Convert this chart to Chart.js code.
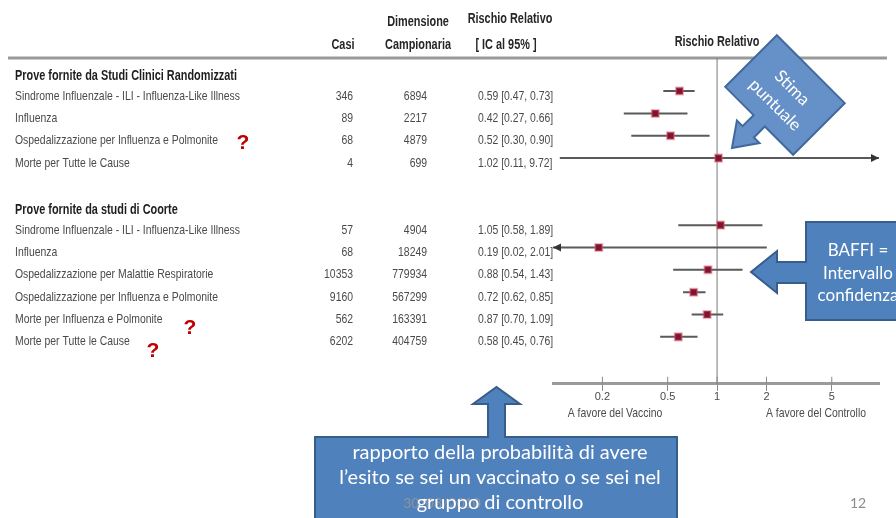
<!DOCTYPE html>
<html>
<head>
<meta charset="utf-8">
<script src="https://cdn.jsdelivr.net/npm/chart.js@4.4.1/dist/chart.umd.min.js"></script>
<style>
    html, body { margin: 0; padding: 0; background: #fff; }
    #wrap { width: 896px; height: 518px; position: relative; }
</style>
</head>
<body>
<div id="wrap"><canvas id="forestChart"></canvas></div>
<script>
// --- Data ---
const sectionTitles = ['Prove fornite da Studi Clinici Randomizzati', 'Prove fornite da studi di Coorte'];
const outcomes = [
    'Sindrome Influenzale - ILI - Influenza-Like Illness',
    'Influenza',
    'Ospedalizzazione per Influenza e Polmonite',
    'Morte per Tutte le Cause',
    'Sindrome Influenzale - ILI - Influenza-Like Illness',
    'Influenza',
    'Ospedalizzazione per Malattie Respiratorie',
    'Ospedalizzazione per Influenza e Polmonite',
    'Morte per Influenza e Polmonite',
    'Morte per Tutte le Cause'
];
const outcomeGroup = [0, 0, 0, 0, 1, 1, 1, 1, 1, 1];
const cases = [346, 89, 68, 4, 57, 68, 10353, 9160, 562, 6202];
const sampleSize = [6894, 2217, 4879, 699, 4904, 18249, 779934, 567299, 163391, 404759];
const riskRatio = [0.59, 0.42, 0.52, 1.02, 1.05, 0.19, 0.88, 0.72, 0.87, 0.58];
const ciLower = [0.47, 0.27, 0.30, 0.11, 0.58, 0.02, 0.54, 0.62, 0.70, 0.45];
const ciUpper = [0.73, 0.66, 0.90, 9.72, 1.89, 2.01, 1.43, 0.85, 1.09, 0.76];
const xTicks = [0.2, 0.5, 1, 2, 5];

// row index on the y scale: each section has a title row and a blank row before it
const rowOf = outcomes.map((_, i) => i + 1 + outcomeGroup[i] * 2);
const titleRow = sectionTitles.map((_, g) => outcomeGroup.indexOf(g) + g * 2);

const fmt = v => v.toFixed(2);

// draws text squeezed horizontally, like a narrow font
function narrowText(ctx, str, x, y, font, color, sx, align) {
    ctx.save();
    ctx.font = font;
    ctx.fillStyle = color;
    ctx.textBaseline = 'middle';
    ctx.textAlign = 'left';
    const w = ctx.measureText(str).width * sx;
    let left = x;
    if (align === 'right') left = x - w;
    else if (align === 'center') left = x - w / 2;
    ctx.translate(left, y);
    ctx.scale(sx, 1);
    ctx.fillText(str, 0, 0);
    ctx.restore();
}

function polygon(ctx, pts, fill, stroke) {
    ctx.beginPath();
    pts.forEach(([px, py], i) => i ? ctx.lineTo(px, py) : ctx.moveTo(px, py));
    ctx.closePath();
    ctx.fillStyle = fill;
    ctx.fill();
    ctx.strokeStyle = stroke;
    ctx.lineWidth = 2;
    ctx.stroke();
}

function centeredLines(ctx, lines, cx, y0, step, font, color) {
    ctx.save();
    ctx.font = font;
    ctx.fillStyle = color;
    ctx.textAlign = 'center';
    ctx.textBaseline = 'middle';
    lines.forEach((l, i) => ctx.fillText(l, cx, y0 + i * step));
    ctx.restore();
}

const REG = '13px "Liberation Sans", Arial, sans-serif';
const BOLD = 'bold 14px "Liberation Sans", Arial, sans-serif';
const CALLOUT = '"Lato", "Open Sans", sans-serif';

const forestPlugin = {
    id: 'forestTable',
    beforeDatasetsDraw(chart) {
        const { ctx, chartArea, scales: { x } } = chart;
        ctx.save();
        // top rule under the headers
        ctx.strokeStyle = '#9a9a9a';
        ctx.lineWidth = 3;
        ctx.beginPath();
        ctx.moveTo(8, chartArea.top);
        ctx.lineTo(887, chartArea.top);
        ctx.stroke();
        // line of no effect
        const x1 = x.getPixelForValue(1);
        ctx.strokeStyle = '#7a7a7a';
        ctx.lineWidth = 1;
        ctx.beginPath();
        ctx.moveTo(x1, chartArea.top);
        ctx.lineTo(x1, chartArea.bottom);
        ctx.stroke();
        // upper half of tick marks
        ctx.strokeStyle = '#888';
        xTicks.forEach(v => {
            const px = x.getPixelForValue(v);
            ctx.beginPath();
            ctx.moveTo(px, chartArea.bottom - 7);
            ctx.lineTo(px, chartArea.bottom);
            ctx.stroke();
        });
        ctx.restore();
    },
    afterDatasetsDraw(chart) {
        const { ctx, chartArea, scales: { x, y } } = chart;
        ctx.save();
        ctx.fillStyle = '#333';
        // arrows where the interval leaves the axis
        outcomes.forEach((_, i) => {
            const py = y.getPixelForValue(rowOf[i]);
            if (ciLower[i] < x.min) {
                const px = chartArea.left;
                ctx.beginPath();
                ctx.moveTo(px, py);
                ctx.lineTo(px + 8, py - 4);
                ctx.lineTo(px + 8, py + 4);
                ctx.closePath();
                ctx.fill();
            }
            if (ciUpper[i] > x.max) {
                const px = chartArea.right;
                ctx.beginPath();
                ctx.moveTo(px, py);
                ctx.lineTo(px - 8, py - 4);
                ctx.lineTo(px - 8, py + 4);
                ctx.closePath();
                ctx.fill();
            }
        });
        ctx.restore();
    },
    afterDraw(chart) {
        const { ctx, scales: { x, y } } = chart;
        ctx.save();
        ctx.font = REG;
        const sx = 225 / ctx.measureText(outcomes[0]).width;
        ctx.font = BOLD;
        const sxb = 222 / ctx.measureText(sectionTitles[0]).width;
        ctx.restore();

        const hdr = '#262626';
        // column headers
        narrowText(ctx, 'Casi', 343, 45, BOLD, hdr, sxb, 'center');
        narrowText(ctx, 'Dimensione', 418, 22, BOLD, hdr, sxb, 'center');
        narrowText(ctx, 'Campionaria', 418, 45, BOLD, hdr, sxb, 'center');
        narrowText(ctx, 'Rischio Relativo', 510, 19, BOLD, hdr, sxb, 'center');
        narrowText(ctx, '[ IC al 95% ]', 506, 45, BOLD, hdr, sxb, 'center');
        narrowText(ctx, 'Rischio Relativo', 717, 42, BOLD, hdr, sxb, 'center');

        sectionTitles.forEach((t, g) => {
            narrowText(ctx, t, 15, y.getPixelForValue(titleRow[g]) + 7, BOLD, '#1e1e1e', sxb, 'left');
        });
        outcomes.forEach((t, i) => {
            const py = y.getPixelForValue(rowOf[i]) + 5;
            narrowText(ctx, t, 15, py, REG, '#4a4a4a', sx, 'left');
            narrowText(ctx, String(cases[i]), 353, py, REG, '#4a4a4a', sx, 'right');
            narrowText(ctx, String(sampleSize[i]), 427, py, REG, '#4a4a4a', sx, 'right');
            narrowText(ctx, fmt(riskRatio[i]) + ' [' + fmt(ciLower[i]) + ', ' + fmt(ciUpper[i]) + ']', 478, py, REG, '#4a4a4a', sx, 'left');
        });

        // favour labels under the axis
        narrowText(ctx, 'A favore del Vaccino', 615, 413, REG, '#4a4a4a', sx, 'center');
        narrowText(ctx, 'A favore del Controllo', 816, 413, REG, '#4a4a4a', sx, 'center');

        // red question marks
        ctx.save();
        ctx.font = 'bold 21px "Liberation Sans", Arial, sans-serif';
        ctx.fillStyle = '#c00000';
        ctx.textAlign = 'center';
        ctx.textBaseline = 'middle';
        ctx.fillText('?', 243, 143);
        ctx.fillText('?', 190, 328);
        ctx.fillText('?', 153, 351);
        ctx.restore();

        // callout "Stima puntuale" (down arrow callout turned 45 degrees)
        ctx.save();
        ctx.translate(785, 95);
        ctx.rotate(Math.PI / 4);
        polygon(ctx, [[-48, -36.5], [48, -36.5], [48, 36.5], [8, 36.5], [8, 52], [16, 52], [0, 75],
            [-16, 52], [-8, 52], [-8, 36.5], [-48, 36.5]], '#6690c8', '#41699c');
        centeredLines(ctx, ['Stima', 'puntuale'], 0, -10, 24, '17px ' + CALLOUT, '#fff');
        ctx.restore();

        // callout "BAFFI"
        ctx.save();
        polygon(ctx, [[806, 222], [912, 222], [912, 320], [806, 320], [806, 283], [777, 283], [777, 293],
            [751, 272], [777, 251], [777, 262], [806, 262]], '#4f81bd', '#385d8a');
        centeredLines(ctx, ['BAFFI =', 'Intervallo', 'confidenza'], 858, 251, 22.5, '17px ' + CALLOUT, '#fff');
        ctx.restore();

        // callout under the table
        ctx.save();
        polygon(ctx, [[315, 437], [488, 437], [488, 404], [473, 404], [496.5, 387], [520, 404], [505, 404],
            [505, 437], [677, 437], [677, 530], [315, 530]], '#4f81bd', '#385d8a');
        ctx.font = '14px ' + CALLOUT;
        ctx.fillStyle = 'rgba(150,150,150,0.9)';
        ctx.textAlign = 'center';
        ctx.textBaseline = 'middle';
        ctx.fillText('30/03/2010', 442, 503);
        centeredLines(ctx, ['rapporto della probabilità di avere', 'l\u2019esito se sei un vaccinato o se sei nel', 'gruppo di controllo'],
            500, 453, 25, '20px ' + CALLOUT, '#fff');
        ctx.restore();

        // slide number
        ctx.save();
        ctx.font = '14px ' + CALLOUT;
        ctx.fillStyle = '#8c8c8c';
        ctx.textAlign = 'center';
        ctx.textBaseline = 'middle';
        ctx.fillText('12', 858, 503);
        ctx.restore();
    }
};

// --- Chart ---
const ciSets = outcomes.map((_, i) => ({
    type: 'scatter',
    showLine: true,
    data: [{ x: ciLower[i], y: rowOf[i] }, { x: ciUpper[i], y: rowOf[i] }],
    borderColor: '#5a5a5a',
    borderWidth: 2,
    pointRadius: 0,
    pointHoverRadius: 0
}));

new Chart(document.getElementById('forestChart').getContext('2d'), {
    type: 'scatter',
    data: {
        datasets: [{
            data: riskRatio.map((v, i) => ({ x: v, y: rowOf[i] })),
            pointStyle: 'rect',
            pointRadius: 5,
            backgroundColor: '#7e1530',
            borderColor: 'rgba(225, 90, 110, 0.45)',
            borderWidth: 2
        }].concat(ciSets)
    },
    options: {
        responsive: true,
        maintainAspectRatio: false,
        animation: false,
        layout: { padding: { left: 553, right: 17, top: 58, bottom: 114 } },
        plugins: { legend: { display: false }, tooltip: { enabled: false } },
        scales: {
            x: {
                type: 'logarithmic',
                min: 0.1,
                max: 9.7,
                afterBuildTicks: scale => { scale.ticks = xTicks.map(v => ({ value: v })); },
                ticks: {
                    autoSkip: false,
                    maxRotation: 0,
                    padding: 0,
                    color: '#4a4a4a',
                    font: { family: '"Liberation Sans", Arial, sans-serif', size: 11 },
                    callback: v => String(v)
                },
                grid: { drawOnChartArea: false, drawTicks: true, tickLength: 7, color: '#888' },
                border: { display: true, color: '#9a9a9a', width: 3 }
            },
            y: {
                type: 'linear',
                min: -0.48,
                max: 14.1,
                reverse: true,
                display: false
            }
        }
    },
    plugins: [forestPlugin]
});
</script>
</body>
</html>
